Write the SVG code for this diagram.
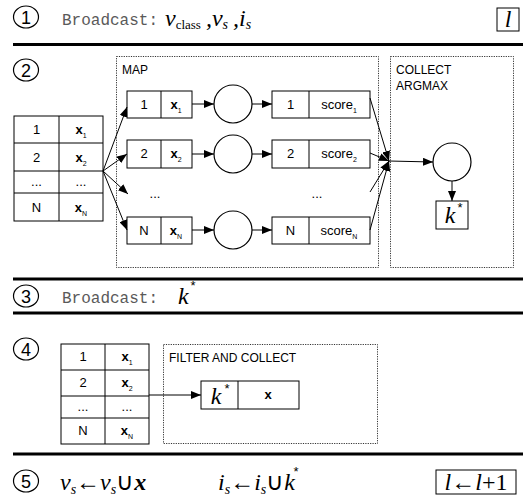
<svg xmlns="http://www.w3.org/2000/svg" width="526" height="503" viewBox="0 0 526 503">
<defs>
<style>
.bg{fill:#fff}
.sep{stroke:#000;stroke-width:3}
.num{fill:none;stroke:#000;stroke-width:1.2}
.numt{font-family:"Liberation Sans",Arial,sans-serif;font-size:18px;text-anchor:middle;fill:#000}
.mono{font-family:"Liberation Mono","Courier New",monospace;font-size:16px;fill:#5a5a5a}
.math{font-family:"Liberation Serif","Times New Roman",serif;font-style:italic;font-size:24px;fill:#000}
.rom{font-style:normal}
.cell{fill:#fff;stroke:#000;stroke-width:1}
.lbl{font-family:"Liberation Sans",Arial,sans-serif;font-size:13px;fill:#000;text-anchor:middle}
.bx{font-weight:bold}
.sub{font-size:7px;font-weight:normal}
.hdr{font-family:"Liberation Sans",Arial,sans-serif;font-size:12px;fill:#000}
.dot{fill:none;stroke:#000;stroke-width:0.8;stroke-dasharray:1.2 1.2}
.ln{fill:none;stroke:#000;stroke-width:1}
.circ{fill:#fff;stroke:#000;stroke-width:1.2}
</style>
<marker id="ah" viewBox="0 0 10 8" refX="10" refY="4" markerWidth="10" markerHeight="8" markerUnits="userSpaceOnUse" orient="auto">
<path d="M0,0 L10,4 L0,8 z" fill="#000"/>
</marker>
</defs>
<rect class="bg" x="0" y="0" width="526" height="503"/>

<!-- separators -->
<g id="separators">
<line class="sep" x1="13" y1="44.5" x2="523" y2="44.5"/>
<line class="sep" x1="13" y1="279" x2="523" y2="279"/>
<line class="sep" x1="13" y1="313" x2="523" y2="313"/>
<line class="sep" x1="13" y1="454" x2="523" y2="454"/>
</g>

<!-- step 1 -->
<g id="step1">
<ellipse class="num" cx="26" cy="17" rx="12.5" ry="11"/>
<text class="numt" x="26" y="23.5">1</text>
<text class="mono" x="62" y="25">Broadcast:</text>
<text class="math" x="165" y="26">v<tspan class="rom" font-size="13" dy="3">class</tspan><tspan dy="-3" dx="5">,v</tspan><tspan font-size="14" dy="3">s</tspan><tspan dy="-3" dx="5">,i</tspan><tspan font-size="14" dy="3">s</tspan></text>
<rect class="cell" x="497" y="8" width="22" height="23"/>
<text class="math" x="508" y="27" text-anchor="middle" font-size="22">l</text>
</g>

<!-- step 2 -->
<g id="step2">
<ellipse class="num" cx="26" cy="70" rx="12.5" ry="11"/>
<text class="numt" x="26" y="76.5">2</text>
</g>

<g id="table2">
<rect class="cell" x="14" y="116" width="89" height="105"/>
<line class="ln" x1="59" y1="116" x2="59" y2="221"/>
<line class="ln" x1="14" y1="143" x2="103" y2="143"/>
<line class="ln" x1="14" y1="171" x2="103" y2="171"/>
<line class="ln" x1="14" y1="193" x2="103" y2="193"/>
<text class="lbl" x="36.5" y="134">1</text>
<text class="lbl" x="36.5" y="162">2</text>
<text class="lbl" x="36.5" y="186">...</text>
<text class="lbl" x="36.5" y="212">N</text>
<text class="lbl bx" x="81" y="134">x<tspan class="sub" dy="4">1</tspan></text>
<text class="lbl bx" x="81" y="162">x<tspan class="sub" dy="4">2</tspan></text>
<text class="lbl" x="81" y="186">...</text>
<text class="lbl bx" x="81" y="212">x<tspan class="sub" dy="4">N</tspan></text>
</g>

<g id="map">
<rect class="dot" x="116.5" y="56.5" width="262" height="211"/>
<text class="hdr" x="122" y="74">MAP</text>
</g>

<g id="map-row1">
<rect class="cell" x="127" y="91" width="65" height="27"/>
<line class="ln" x1="161" y1="91" x2="161" y2="118"/>
<text class="lbl" x="144" y="109">1</text>
<text class="lbl bx" x="176" y="109">x<tspan class="sub" dy="4">1</tspan></text>
<circle class="circ" cx="233" cy="104" r="19"/>
<rect class="cell" x="272" y="91" width="98" height="27"/>
<line class="ln" x1="309" y1="91" x2="309" y2="118"/>
<text class="lbl" x="290.5" y="109">1</text>
<text class="lbl" x="339" y="109">score<tspan class="sub" dy="4">1</tspan></text>
</g>
<g id="map-row2">
<rect class="cell" x="127" y="140" width="65" height="28"/>
<line class="ln" x1="161" y1="140" x2="161" y2="168"/>
<text class="lbl" x="144" y="158">2</text>
<text class="lbl bx" x="176" y="158">x<tspan class="sub" dy="4">2</tspan></text>
<circle class="circ" cx="233" cy="154" r="19"/>
<rect class="cell" x="272" y="140" width="98" height="28"/>
<line class="ln" x1="309" y1="140" x2="309" y2="168"/>
<text class="lbl" x="290.5" y="158">2</text>
<text class="lbl" x="339" y="158">score<tspan class="sub" dy="4">2</tspan></text>
</g>
<g id="map-dots">
<text class="lbl" x="155" y="198">...</text>
<text class="lbl" x="317" y="198">...</text>
</g>
<g id="map-rowN">
<rect class="cell" x="127" y="217" width="65" height="27"/>
<line class="ln" x1="161" y1="217" x2="161" y2="244"/>
<text class="lbl" x="144" y="235">N</text>
<text class="lbl bx" x="176" y="235">x<tspan class="sub" dy="4">N</tspan></text>
<circle class="circ" cx="233" cy="230" r="19"/>
<rect class="cell" x="272" y="217" width="98" height="27"/>
<line class="ln" x1="309" y1="217" x2="309" y2="244"/>
<text class="lbl" x="290.5" y="235">N</text>
<text class="lbl" x="339" y="235">score<tspan class="sub" dy="4">N</tspan></text>
</g>

<g id="collect">
<rect class="dot" x="390.5" y="56.5" width="123" height="211"/>
<text class="hdr" x="396" y="74">COLLECT</text>
<text class="hdr" x="396" y="90">ARGMAX</text>
<circle class="circ" cx="452" cy="162" r="19"/>
<rect class="cell" x="436" y="201" width="32" height="28"/>
<text class="math" x="450" y="223" text-anchor="middle" font-size="21">k</text>
<text class="lbl" x="460" y="212" font-size="9">*</text>
</g>

<!-- step 3 -->
<g id="step3">
<ellipse class="num" cx="26" cy="296" rx="12.5" ry="11"/>
<text class="numt" x="26" y="302.5">3</text>
<text class="mono" x="62" y="303">Broadcast:</text>
<text class="math" x="178" y="304">k</text>
<text class="lbl" x="193" y="290" font-size="10">*</text>
</g>

<!-- step 4 -->
<g id="step4">
<ellipse class="num" cx="26" cy="349" rx="12.5" ry="11"/>
<text class="numt" x="26" y="355.5">4</text>
</g>
<g id="table4">
<rect class="cell" x="61" y="344" width="88" height="100"/>
<line class="ln" x1="105" y1="344" x2="105" y2="444"/>
<line class="ln" x1="61" y1="370" x2="149" y2="370"/>
<line class="ln" x1="61" y1="396" x2="149" y2="396"/>
<line class="ln" x1="61" y1="418" x2="149" y2="418"/>
<text class="lbl" x="83" y="361">1</text>
<text class="lbl" x="83" y="387">2</text>
<text class="lbl" x="83" y="411">...</text>
<text class="lbl" x="83" y="435">N</text>
<text class="lbl bx" x="127" y="361">x<tspan class="sub" dy="4">1</tspan></text>
<text class="lbl bx" x="127" y="387">x<tspan class="sub" dy="4">2</tspan></text>
<text class="lbl" x="127" y="411">...</text>
<text class="lbl bx" x="127" y="435">x<tspan class="sub" dy="4">N</tspan></text>
</g>
<g id="filter">
<rect class="dot" x="163.5" y="344.5" width="214" height="99"/>
<text class="hdr" x="169" y="362">FILTER AND COLLECT</text>
<rect class="cell" x="201" y="381" width="98" height="28"/>
<line class="ln" x1="238" y1="381" x2="238" y2="409"/>
<text class="math" x="216" y="404" text-anchor="middle" font-size="21">k</text>
<text class="lbl" x="227" y="393" font-size="9">*</text>
<text class="lbl bx" x="268" y="399">x</text>
</g>

<!-- step 5 -->
<g id="step5">
<ellipse class="num" cx="26" cy="481" rx="12.5" ry="11"/>
<text class="numt" x="26" y="487.5">5</text>
<text class="math" x="60" y="490">v<tspan font-size="14" dy="4">s</tspan><tspan class="rom" dy="-4" font-weight="bold">←</tspan>v<tspan font-size="14" dy="4">s</tspan><tspan class="rom" dy="-4">∪</tspan><tspan font-weight="bold">x</tspan></text>
<text class="math" x="218" y="490">i<tspan font-size="14" dy="4">s</tspan><tspan class="rom" dy="-4" font-weight="bold">←</tspan>i<tspan font-size="14" dy="4">s</tspan><tspan class="rom" dy="-4">∪</tspan>k</text>
<text class="lbl" x="296" y="476" font-size="10">*</text>
<rect class="cell" x="436" y="470" width="80" height="24"/>
<text class="math" x="476" y="490" text-anchor="middle" font-size="23">l<tspan class="rom" font-weight="bold">←</tspan>l<tspan class="rom">+1</tspan></text>
</g>

<!-- connectors -->
<g id="connectors">
<line class="ln" x1="103" y1="171" x2="127" y2="107" marker-end="url(#ah)"/>
<line class="ln" x1="103" y1="171" x2="127" y2="154" marker-end="url(#ah)"/>
<line class="ln" x1="103" y1="171" x2="128" y2="194" marker-end="url(#ah)"/>
<line class="ln" x1="103" y1="171" x2="127" y2="230" marker-end="url(#ah)"/>
<line class="ln" x1="192" y1="104" x2="214" y2="104" marker-end="url(#ah)"/>
<line class="ln" x1="252" y1="104" x2="272" y2="104" marker-end="url(#ah)"/>
<line class="ln" x1="192" y1="154" x2="214" y2="154" marker-end="url(#ah)"/>
<line class="ln" x1="252" y1="154" x2="272" y2="154" marker-end="url(#ah)"/>
<line class="ln" x1="192" y1="230" x2="214" y2="230" marker-end="url(#ah)"/>
<line class="ln" x1="252" y1="230" x2="272" y2="230" marker-end="url(#ah)"/>
<line class="ln" x1="370" y1="98" x2="389" y2="161" marker-end="url(#ah)"/>
<line class="ln" x1="370" y1="153" x2="389" y2="161" marker-end="url(#ah)"/>
<line class="ln" x1="370" y1="192" x2="389" y2="161" marker-end="url(#ah)"/>
<line class="ln" x1="370" y1="230" x2="389" y2="161" marker-end="url(#ah)"/>
<line class="ln" x1="389" y1="161" x2="433" y2="162" marker-end="url(#ah)"/>
<line class="ln" x1="452" y1="181" x2="452" y2="201" marker-end="url(#ah)"/>
<line class="ln" x1="149" y1="395" x2="201" y2="395" marker-end="url(#ah)"/>
</g>
</svg>
